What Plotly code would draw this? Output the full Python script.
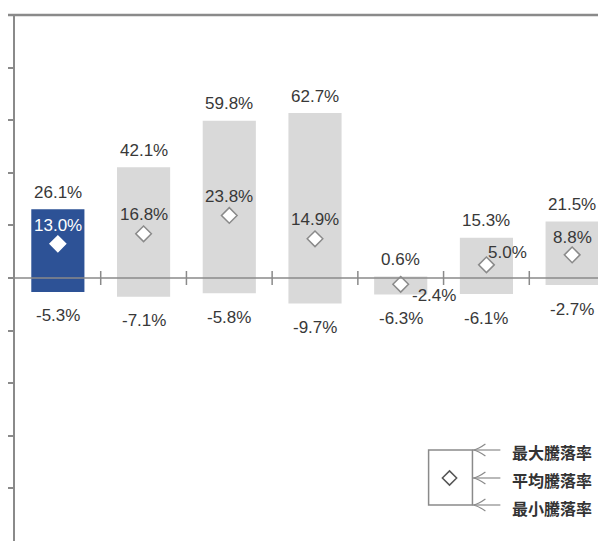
import plotly.graph_objects as go

# ---- data ----
categories = ["1", "2", "3", "4", "5", "6", "7"]
max_vals = [26.1, 42.1, 59.8, 62.7, 0.6, 15.3, 21.5]
avg_vals = [13.0, 16.8, 23.8, 14.9, -2.4, 5.0, 8.8]
min_vals = [-5.3, -7.1, -5.8, -9.7, -6.3, -6.1, -2.7]
legend_labels = ["最大騰落率", "平均騰落率", "最小騰落率"]
y_ticks = [-80, -60, -40, -20, 0, 20, 40, 60, 80]

# ---- style ----
OFF = 8  # page body margin
W, H = 606 - OFF, 541 - OFF
ML, MR, MT, MB = 13 - OFF, 0, 15 - OFF, 0
BLUE = "#2d5296"
GREY_BAR = "#d9d9d9"
AXIS = "#8a8a8a"
TXT = "#383838"
FONT = "Liberation Sans, Arial, sans-serif"
FS = 17
bar_colors = [BLUE] + [GREY_BAR] * (len(categories) - 1)
avg_label_colors = ["white"] + [TXT] * (len(categories) - 1)
diamond_line = ["white"] + [AXIS] * (len(categories) - 1)
# per-label pixel offsets for the average labels (xshift, yshift)
avg_offsets = [(0, 18), (0, 19), (0, 19), (0, 19), (33, -11), (21, 12), (0, 17)]

xs = list(range(len(categories)))

fig = go.Figure()
fig.add_trace(go.Bar(
    x=xs, y=[mx - mn for mx, mn in zip(max_vals, min_vals)], base=min_vals,
    marker=dict(color=bar_colors, line=dict(width=0)),
    width=0.62, hoverinfo="skip", showlegend=False,
))
fig.add_trace(go.Scatter(
    x=xs, y=avg_vals, mode="markers",
    marker=dict(symbol="diamond", size=12, color="white",
                line=dict(color=diamond_line, width=1.5)),
    showlegend=False, hoverinfo="skip", cliponaxis=False,
))

ann = []
for i, x in enumerate(xs):
    ann.append(dict(x=x, y=max_vals[i], text=f"{max_vals[i]:.1f}%", showarrow=False,
                    yshift=17, font=dict(family=FONT, size=FS, color=TXT)))
    ann.append(dict(x=x, y=min_vals[i], text=f"{min_vals[i]:.1f}%", showarrow=False,
                    yshift=-24, font=dict(family=FONT, size=FS, color=TXT)))
    ann.append(dict(x=x, y=avg_vals[i], text=f"{avg_vals[i]:.1f}%", showarrow=False,
                    xshift=avg_offsets[i][0], yshift=avg_offsets[i][1],
                    font=dict(family=FONT, size=FS, color=avg_label_colors[i])))

pw, ph = W - ML - MR, H - MT - MB
def px(v):
    return (v - OFF - ML) / pw
def py(v):
    return (H - MB - (v - OFF)) / ph

shapes = []
# zero axis line
shapes.append(dict(type="line", xref="paper", yref="y", x0=px(4), x1=1, y0=0, y1=0,
                   line=dict(color=AXIS, width=1.5), layer="above"))
# category boundary cross ticks
for k in range(len(categories) - 1):
    shapes.append(dict(type="line", xref="x", yref="y", ysizemode="pixel", yanchor=0,
                       x0=k + 0.5, x1=k + 0.5, y0=-7, y1=7,
                       line=dict(color=AXIS, width=1.5), layer="above"))
# top border line
shapes.append(dict(type="line", xref="paper", yref="paper", x0=px(4), x1=1, y0=1, y1=1,
                   line=dict(color=AXIS, width=2.5)))

# legend diagram
LG = "#8a8a8a"
box_l, box_r, box_t, box_b = 428, 472, 450, 505
shapes.append(dict(type="rect", xref="paper", yref="paper",
                   x0=px(box_l), x1=px(box_r), y0=py(box_b), y1=py(box_t),
                   line=dict(color=LG, width=1.5)))
rows_y = [box_t, 478, box_b]
for ry in rows_y:
    shapes.append(dict(type="line", xref="paper", yref="paper",
                       x0=px(box_r), x1=px(500), y0=py(ry), y1=py(ry),
                       line=dict(color=LG, width=1.2)))
    shapes.append(dict(type="path", xref="paper", yref="paper",
                       path=f"M {px(485)} {py(ry - 6)} Q {px(478)} {py(ry - 1)} {px(473)} {py(ry)} "
                            f"Q {px(478)} {py(ry + 1)} {px(485)} {py(ry + 6)}",
                       line=dict(color=LG, width=1.2)))
for lbl, ry in zip(legend_labels, [452, 480, 508]):
    ann.append(dict(xref="paper", yref="paper", x=px(510), y=py(ry), text=f"<b>{lbl}</b>",
                    showarrow=False, xanchor="left", yanchor="middle",
                    font=dict(family="Noto Sans CJK JP", size=16, color="#333333")))

fig.add_trace(go.Scatter(
    x=[px(449)], y=[py(478)], xaxis="x2", yaxis="y2", mode="markers",
    marker=dict(symbol="diamond", size=11, color="white", line=dict(color="#555555", width=1.5)),
    showlegend=False, hoverinfo="skip",
))

fig.update_layout(
    width=W, height=H,
    margin=dict(l=ML, r=MR, t=MT, b=MB),
    paper_bgcolor="white", plot_bgcolor="white",
    xaxis=dict(range=[-0.5, 6.395], visible=False, fixedrange=True),
    yaxis=dict(range=[-100, 100], tickvals=y_ticks, showticklabels=False,
               ticks="outside", ticklen=7, tickcolor=AXIS, tickwidth=1.5,
               showline=True, linecolor=AXIS, linewidth=2, showgrid=False,
               zeroline=False, fixedrange=True),
    xaxis2=dict(range=[0, 1], overlaying="x", visible=False),
    yaxis2=dict(range=[0, 1], overlaying="y", visible=False),
    shapes=shapes, annotations=ann,
)

fig.write_html("out.html")
